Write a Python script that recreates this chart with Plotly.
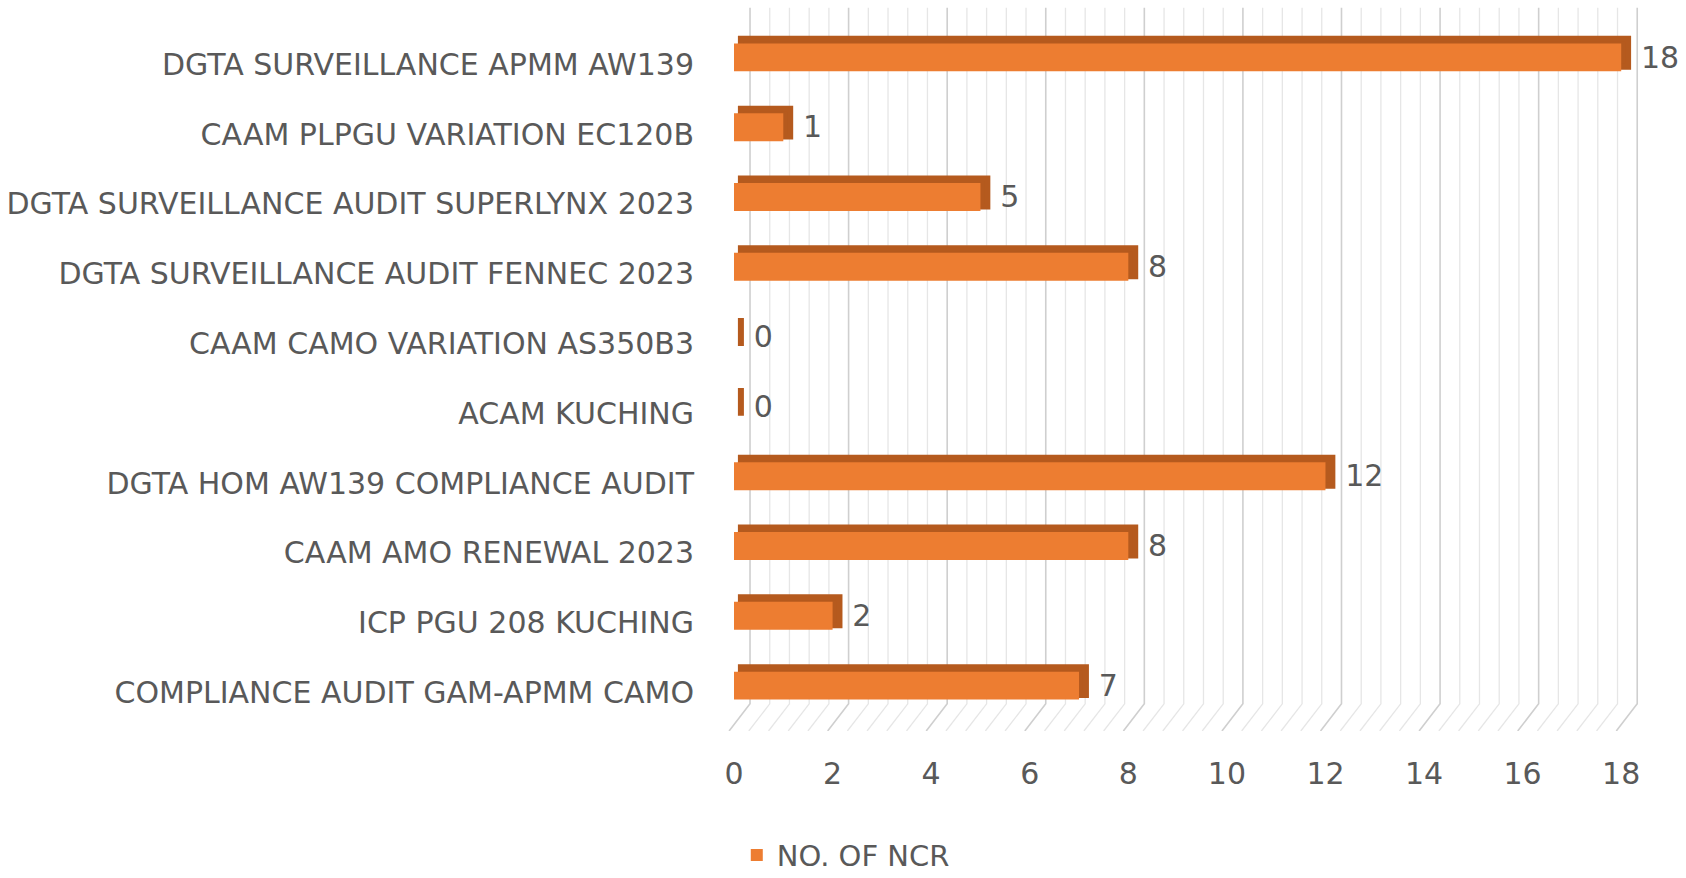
import numpy as np
import plotly.graph_objects as go

categories = [
    "DGTA SURVEILLANCE APMM AW139",
    "CAAM PLPGU VARIATION EC120B",
    "DGTA SURVEILLANCE AUDIT SUPERLYNX 2023",
    "DGTA SURVEILLANCE AUDIT FENNEC 2023",
    "CAAM CAMO VARIATION AS350B3",
    "ACAM KUCHING",
    "DGTA HOM AW139 COMPLIANCE AUDIT",
    "CAAM AMO RENEWAL 2023",
    "ICP PGU 208 KUCHING",
    "COMPLIANCE AUDIT GAM-APMM CAMO",
]
ncr = [18, 1, 5, 8, 0, 0, 12, 8, 2, 7]
x_ticks = [0, 2, 4, 6, 8, 10, 12, 14, 16, 18]
series_name = "NO. OF NCR"

ORANGE = "#ED7D31"
DARK = "#B55A1E"
TEXT = "#595959"
FONT = "DejaVu Sans"
FS = 30

pos = np.arange(len(categories))
vals = np.array(ncr, dtype=float)

XR = [-0.345, 18.99]
YR = [9.55, -0.85]

# 3D geometry (in axis units)
bar_w = 0.40
bar_shift = -0.10
depth_x = 0.28
depth_y = 0.065
grid_dx = 0.325
grid_top, grid_bot, floor_front = -0.81, 9.16, 9.55
front_dx = -0.1

fig = go.Figure()

major = np.array(x_ticks, dtype=float)
allv = np.round(np.arange(0, 18.0001, 0.4), 4)
minor = np.array([v for v in allv if not np.isclose(v % 2, 0) and not np.isclose(v % 2, 2)])


def grid_xy(vs):
    xs, ys = [], []
    for v in vs:
        xs += [v + grid_dx, v + grid_dx, v + front_dx, None]
        ys += [grid_top, grid_bot, floor_front, None]
    return xs, ys


mx, my = grid_xy(minor)
fig.add_trace(go.Scatter(x=mx, y=my, mode="lines", line=dict(color="#E6E6E6", width=1.3),
                         showlegend=False, hoverinfo="skip", xaxis="x", yaxis="y"))
Mx, My = grid_xy(major)
fig.add_trace(go.Scatter(x=Mx, y=My, mode="lines", line=dict(color="#CFCFCF", width=1.6),
                         showlegend=False, hoverinfo="skip", xaxis="x", yaxis="y"))

# dark (top/side) faces
fig.add_trace(go.Bar(
    y=pos, x=vals, base=depth_x * 0.5, orientation="h",
    width=bar_w, offset=-bar_w / 2 + bar_shift - depth_y,
    marker=dict(color=DARK, line=dict(color=DARK, width=6)),
    showlegend=False, hoverinfo="skip", xaxis="x2", yaxis="y2",
))
# front faces
fig.add_trace(go.Bar(
    y=pos, x=vals, orientation="h", name=series_name,
    width=bar_w, offset=-bar_w / 2 + bar_shift,
    marker=dict(color=ORANGE, line=dict(width=0)),
    xaxis="x2", yaxis="y2",
))
# data labels
fig.add_trace(go.Scatter(
    x=vals + depth_x + 0.12, y=pos + bar_shift + 0.04, mode="text",
    text=[str(int(v)) for v in ncr], textposition="middle right",
    textfont=dict(family=FONT, size=FS, color=TEXT),
    showlegend=False, hoverinfo="skip", xaxis="x2", yaxis="y2", cliponaxis=False,
))

fig.update_layout(
    width=1686, height=878,
    margin=dict(l=717, r=16, t=5, b=147, autoexpand=False),
    paper_bgcolor="white", plot_bgcolor="rgba(0,0,0,0)",
    barmode="overlay",
    font=dict(family=FONT, size=FS, color=TEXT),
    xaxis=dict(range=XR, tickvals=x_ticks, showgrid=False, zeroline=False, showline=False,
               ticks="", ticklabelstandoff=22, automargin=False,
               tickfont=dict(size=FS, color=TEXT)),
    yaxis=dict(range=YR, tickvals=list(pos), ticktext=categories, showgrid=False,
               zeroline=False, showline=False, ticks="", ticklabelstandoff=22, automargin=False,
               tickfont=dict(size=FS, color=TEXT)),
    xaxis2=dict(range=XR, overlaying="x", visible=False),
    yaxis2=dict(range=YR, overlaying="y", visible=False),
    legend=dict(orientation="h", xref="container", yref="container",
                x=0.437, y=0.026, xanchor="left", yanchor="middle",
                font=dict(size=29, color=TEXT), itemsizing="constant"),
    showlegend=True,
)

fig.write_html("out.html", post_script="document.body.style.margin='0';",
               config={"displayModeBar": False})
